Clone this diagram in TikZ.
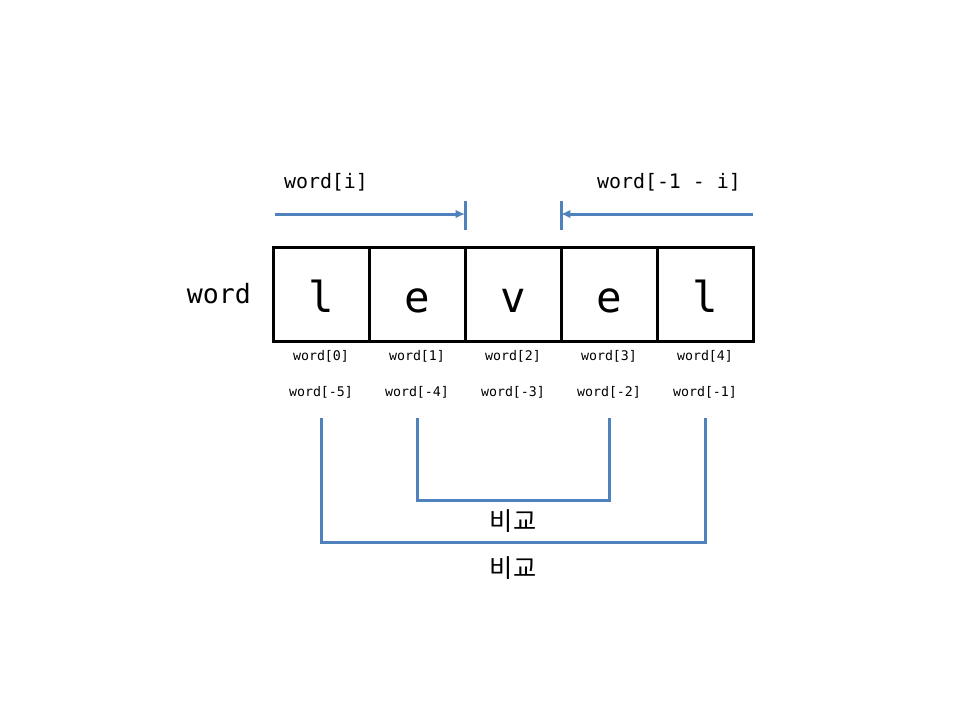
\documentclass[tikz,border=0pt]{standalone}
\usepackage{fontspec}
\setmonofont{DejaVu Sans Mono}
\newfontfamily\krfont{Noto Sans CJK KR}
\usepackage{tikz}
\usetikzlibrary{arrows.meta, positioning}
\definecolor{linkcolor}{RGB}{79, 129, 189}

\begin{document}
\begin{tikzpicture}[x=0.75bp, y=-0.75bp,
    cell/.style={draw, line width=2.25bp, minimum width=72bp, minimum height=70.5bp, inner sep=0pt, outer sep=0pt, text height=28bp, text depth=0pt, font=\ttfamily\fontsize{32}{32}\selectfont},
    idx/.style={font=\ttfamily\fontsize{10}{12}\selectfont},
    link/.style={draw=linkcolor, line width=2.25bp},
    cmp/.style={font=\krfont\fontsize{19}{21}\selectfont}]
    \useasboundingbox (0,0) rectangle (960,720);

    % Cells
    \node[cell] (c1) at (321,294) {l};
    \node[cell, right=0pt of c1] (c2) {e};
    \node[cell, right=0pt of c2] (c3) {v};
    \node[cell, right=0pt of c3] (c4) {e};
    \node[cell, right=0pt of c4] (c5) {l};
    \node[font=\ttfamily\fontsize{20}{24}\selectfont, left=13bp of c1] (name) {word};

    % Indices
    \node[idx] (p1) at (321,356) {word[0]};
    \node[idx] (p2) at (417,356) {word[1]};
    \node[idx] (p3) at (513,356) {word[2]};
    \node[idx] (p4) at (609,356) {word[3]};
    \node[idx] (p5) at (705,356) {word[4]};
    \node[idx] (n1) at (321,392) {word[-5]};
    \node[idx] (n2) at (417,392) {word[-4]};
    \node[idx] (n3) at (513,392) {word[-3]};
    \node[idx] (n4) at (609,392) {word[-2]};
    \node[idx] (n5) at (705,392) {word[-1]};

    % Forward
    \node[font=\ttfamily\fontsize{15}{18}\selectfont] (fwd) at (326,182) {word[i]};
    \coordinate (fs) at (275,214);
    \coordinate (ft) at (465,214);
    \draw[link] (465,201) -- (465,230);
    \draw[link, -{Latex[length=7bp, width=6.5bp]}] (fs) -- (ft);

    % Backward
    \node[font=\ttfamily\fontsize{15}{18}\selectfont] (bwd) at (669,182) {word[-1 - i]};
    \coordinate (bs) at (753,214);
    \coordinate (bt) at (561,214);
    \draw[link] (561,201) -- (561,230);
    \draw[link, -{Latex[length=7bp, width=6.5bp]}] (bs) -- (bt);

    % Comparisons
    \coordinate (b1) at (321,418);
    \coordinate (b2) at (417,418);
    \coordinate (b4) at (609,418);
    \coordinate (b5) at (705,418);
    \draw[link] (b2) -- ++(0,82) -| (b4);
    \node[cmp] (k2) at (513,521) {비교};
    \draw[link] (b1) -- ++(0,124) -| (b5);
    \node[cmp] (k1) at (513,568) {비교};

\end{tikzpicture}
\end{document}
